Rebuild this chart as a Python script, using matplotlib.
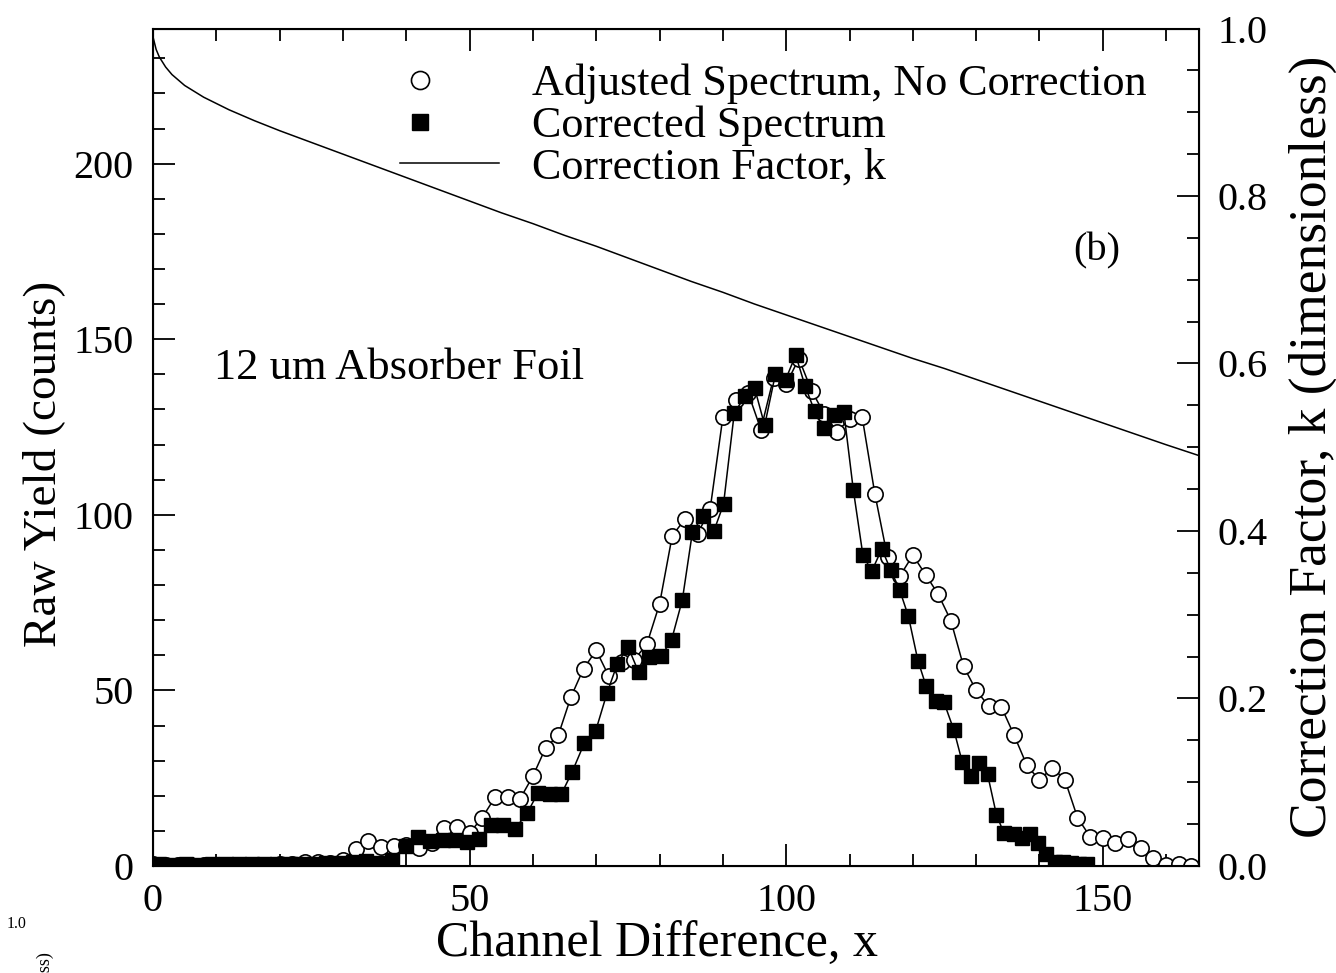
import numpy as np
import matplotlib
matplotlib.use('Agg')
import matplotlib.pyplot as plt
from matplotlib.ticker import MultipleLocator, FormatStrFormatter
from matplotlib.lines import Line2D
from matplotlib.legend_handler import HandlerLine2D

plt.rcParams['font.family'] = ['Liberation Serif', 'DejaVu Serif']

# adjusted spectrum (no correction), one point every 2 channels
adj_x = np.arange(0, 165, 2)
adj_y = [0.5, 0.3, 0.2, 0.4, 0.3, 0.4, 0.3, 0.4, 0.3, 0.4, 0.5, 0.6, 1.0, 1.2, 0.9, 1.7,
         4.8, 7.2, 5.5, 5.7, 6.0, 5.1, 6.4, 10.8, 11.0, 9.4, 13.8, 19.5, 19.5, 19.2, 25.6,
         33.6, 37.2, 48.1, 56.2, 61.4, 54.0, 58.2, 58.7, 63.2, 74.6,
         94.0, 98.8, 94.5, 101.8, 127.8, 132.8, 134.7, 124.3, 139.0, 137.2,
         144.5, 135.4, 128.8, 123.7, 127.2, 127.8, 106.0, 87.9, 82.7, 88.5,
         83.0, 77.4, 69.9, 56.9, 50.0, 45.5, 45.2, 37.2, 28.7, 24.4,
         28.0, 24.6, 13.8, 8.3, 8.1, 6.6, 7.7, 5.0, 2.2, 0.3, 0.6, 0.0]

# corrected spectrum
cor_x = [1.0, 3.1, 5.2, 7.3, 9.4, 11.5, 13.6, 15.6, 17.6, 19.6, 21.6, 23.6, 25.5, 27.4,
         29.5, 31.6, 33.6, 35.6, 37.7, 39.9, 41.8, 43.8, 45.8, 47.7, 49.6, 51.5, 53.4, 55.3, 57.1, 59.1,
         60.8, 62.7, 64.5, 66.2, 68.1, 69.9, 71.7, 73.3, 75.0, 76.7, 78.4, 80.3, 81.9, 83.6,
         85.2, 86.9, 88.6, 90.1, 91.8, 93.5, 95.0, 96.6, 98.3, 99.9, 101.5, 103.0, 104.5, 105.9, 107.6, 109.1,
         110.6, 112.1, 113.5, 115.1, 116.5, 117.9, 119.3, 120.8, 122.1, 123.6, 124.9, 126.5, 127.8, 129.2,
         130.4, 131.8, 133.2,
         134.4, 135.9, 137.2, 138.5, 139.8, 141.1, 142.4, 143.7, 145.0, 146.2, 147.5]
cor_y = [0.5, 0.2, 0.5, 0.4, 0.5, 0.5, 0.5, 0.5, 0.5, 0.5, 0.6, 0.5, 0.6, 0.8,
         0.9, 1.2, 1.5, 0.8, 1.7, 5.7, 8.3, 7.1, 7.5, 7.4, 6.7, 7.8, 11.8, 11.8, 10.4, 15.1,
         20.8, 20.4, 20.5, 26.8, 34.9, 38.4, 49.2, 57.4, 62.5, 55.2, 59.5, 59.9, 64.4, 75.8,
         95.2, 99.7, 95.5, 103.0, 129.0, 133.8, 136.2, 125.5, 140.1, 138.5, 145.5, 136.6, 129.5, 124.8, 128.4, 129.3,
         107.1, 88.7, 83.9, 90.3, 84.3, 78.7, 71.1, 58.5, 51.2, 46.9, 46.7, 38.6, 29.6, 25.6,
         29.4, 26.1, 14.6,
         9.3, 9.2, 7.9, 9.0, 6.4, 3.3, 1.2, 1.2, 0.8, 0.6, 0.5]

# correction factor k(x)
k_x = [0, 0.5, 1, 2, 3, 5, 8, 12, 16, 20, 25, 30, 35, 40, 45, 50, 55, 60, 65, 70, 75, 80,
       85, 90, 95, 100, 105, 110, 115, 120, 125, 130, 135, 140, 145, 150, 155, 160, 165.2]
k_val = [0.99, 0.975, 0.966, 0.954, 0.945, 0.932, 0.918, 0.903, 0.890, 0.878, 0.864, 0.850,
         0.836, 0.822, 0.808, 0.794, 0.780, 0.767, 0.753, 0.740, 0.726, 0.712, 0.698, 0.685,
         0.671, 0.658, 0.645, 0.632, 0.619, 0.606, 0.594, 0.581, 0.568, 0.555, 0.542, 0.529,
         0.516, 0.503, 0.490]


class LeftMarker(HandlerLine2D):
    # single legend marker near the left end of the handle box
    def get_xdata(self, legend, xdescent, ydescent, width, height, fontsize):
        x = [-xdescent, 0.4 * width - xdescent]
        return x, x


fig = plt.figure(figsize=(13.36, 9.73), dpi=100)
ax = fig.add_axes([0.1145, 0.110, 0.7830, 0.8607])

ax.plot(adj_x, adj_y, '-', color='black', lw=1.1, marker='o', ms=11,
        mfc='white', mec='black', mew=1.2, zorder=2)
ax.plot(cor_x, cor_y, '-', color='black', lw=1.1, marker='s', ms=9.5,
        mfc='black', mec='black', zorder=3)

ax.set_xlim(0, 165.2)
ax.set_ylim(0, 238.5)
ax.xaxis.set_major_locator(MultipleLocator(50))
ax.xaxis.set_minor_locator(MultipleLocator(10))
ax.yaxis.set_major_locator(MultipleLocator(50))
ax.yaxis.set_minor_locator(MultipleLocator(10))
ax.tick_params(which='both', direction='in', width=1.3, labelsize=29, top=True)
ax.tick_params(which='major', length=16)
ax.tick_params(which='minor', length=8.5)
ax.tick_params(axis='x', pad=12)
ax.tick_params(axis='y', pad=14)
for s in ax.spines.values():
    s.set_linewidth(1.5)

ax2 = ax.twinx()
ax2.plot(k_x, k_val, '-', color='black', lw=1.1)
ax2.set_ylim(0, 1.0)
ax2.yaxis.set_major_locator(MultipleLocator(0.2))
ax2.yaxis.set_minor_locator(MultipleLocator(0.05))
ax2.yaxis.set_major_formatter(FormatStrFormatter('%.1f'))
ax2.tick_params(which='both', direction='in', width=1.3, labelsize=29, pad=13)
ax2.tick_params(which='major', length=16)
ax2.tick_params(which='minor', length=8.5)

ax.set_xlabel('Channel Difference, x', fontsize=36)
ax.xaxis.set_label_coords(0.482, -0.066)
ax.set_ylabel('Raw Yield (counts)', fontsize=34)
ax.yaxis.set_label_coords(-0.084, 0.48)
ax2.set_ylabel('Correction Factor, k (dimensionless)', fontsize=38.5)
ax2.yaxis.set_label_coords(1.086, 0.5)

ax.text(0.058, 0.595, '12 um Absorber Foil', transform=ax.transAxes, fontsize=32,
        va='center', ha='left')
ax.text(0.88, 0.735, '(b)', transform=ax.transAxes, fontsize=29, va='center', ha='left')

handles = [Line2D([], [], ls='none', marker='o', ms=13, mfc='white', mec='black', mew=1.2),
           Line2D([], [], ls='none', marker='s', ms=11, mfc='black', mec='black'),
           Line2D([], [], color='black', lw=1.1)]
labels = ['Adjusted Spectrum, No Correction', 'Corrected Spectrum', 'Correction Factor, k']
ax.legend(handles, labels, loc='upper left', bbox_to_anchor=(0.236, 0.958),
          frameon=False, fontsize=31.8, borderpad=0, borderaxespad=0,
          handlelength=2.25, handletextpad=0.74, labelspacing=0.03, numpoints=1,
          handler_map={h: LeftMarker() for h in handles[:2]})

# leftover axis text from a neighbouring panel at the bottom left corner
fig.text(0.0127, 0.050, '1.0', fontsize=11.5, ha='center', va='center')
fig.text(0.034, 0.021, 'Correction Factor, k (dimensionless)', fontsize=13,
         rotation=90, ha='center', va='top')

fig.savefig('out.png', dpi=100)
